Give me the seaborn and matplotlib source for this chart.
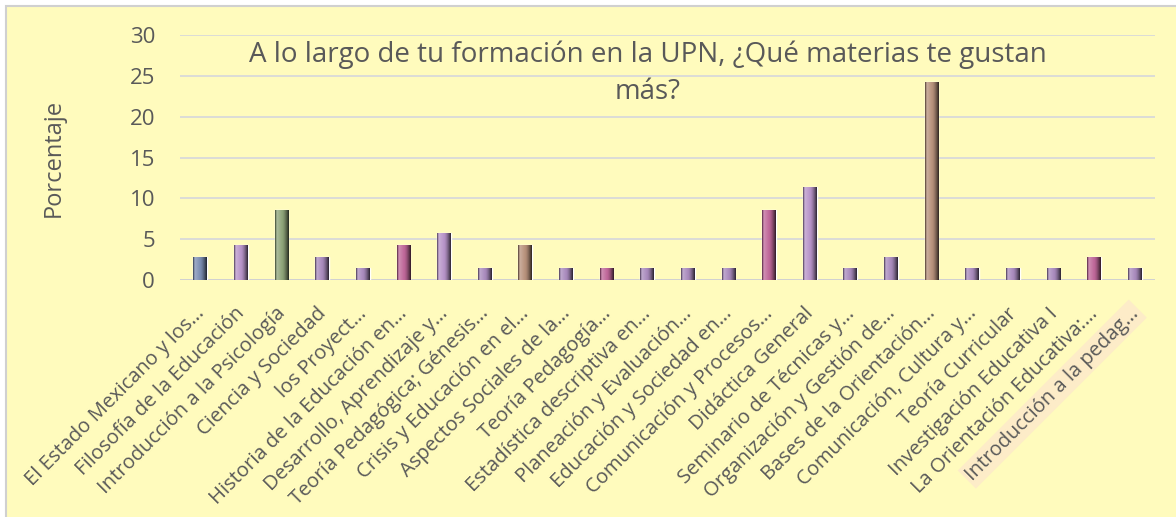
import numpy as np
import pandas as pd
import seaborn as sns
import matplotlib.pyplot as plt
import matplotlib.colors as mcolors
import matplotlib.transforms as mtransforms
from matplotlib.patches import Rectangle

materias = [
    "El Estado Mexicano y los…", "Filosofía de la Educación", "Introducción a la Psicología",
    "Ciencia y Sociedad", "los Proyect…", "Historia de la Educación en…",
    "Desarrollo, Aprendizaje y…", "Teoría Pedagógica; Génesis…", "Crisis y Educación en el…",
    "Aspectos Sociales de la…", "Teoría Pedagogía…", "Estadística descriptiva en…",
    "Planeación y Evaluación…", "Educación y Sociedad en…", "Comunicación y Procesos…",
    "Didáctica General", "Seminario de Técnicas y…", "Organización y Gestión de…",
    "Bases de la Orientación…", "Comunicación, Cultura y…", "Teoría Curricular",
    "Investigación Educativa I", "La Orientación Educativa:…", "Introducción a la pedag…",
]
# respuestas sobre 70 alumnos
respuestas = [2, 3, 6, 2, 1, 3, 4, 1, 3, 1, 1, 1, 1, 1, 6, 8, 1, 2, 17, 1, 1, 1, 2, 1]
porcentaje = [r / 70 * 100 for r in respuestas]

azul, lila, verde, morado, rosa, cafe = "#7d8fb3", "#b894c9", "#8fa57a", "#a98bbd", "#c0689a", "#b8927c"
colores = [azul, lila, verde, morado, morado, rosa, lila, morado, cafe, morado, rosa, morado,
           morado, morado, rosa, lila, morado, morado, cafe, morado, morado, morado, rosa, morado]

df = pd.DataFrame({"materia": materias, "porcentaje": porcentaje})

fondo = "#fffbbd"
texto = "#595959"

sns.set_style("white")
plt.rcParams["font.family"] = ["Open Sans", "DejaVu Sans"]

fig = plt.figure(figsize=(11.76, 5.17), dpi=100, facecolor="white")
marco = Rectangle((6 / 1176, -0.01), 1.0, 1 - 6 / 517 + 0.01, transform=fig.transFigure,
                  facecolor=fondo, edgecolor="#d0d0d0", linewidth=1.5, zorder=-10)
fig.patches.append(marco)
ax = fig.add_axes([180 / 1176, 1 - 280 / 517, 975 / 1176, 245 / 517])
ax.set_facecolor(fondo)

sns.barplot(data=df, x="materia", y="porcentaje", hue="materia", palette=colores,
            legend=False, width=0.34, ax=ax, zorder=3)

# sombreado tipo bisel: claro a la izquierda, oscuro a la derecha
for patch, c in zip(ax.patches, colores):
    x0, y0 = patch.get_x(), patch.get_y()
    w, h = patch.get_width(), patch.get_height()
    base = np.array(mcolors.to_rgb(c))
    claro = base + (1 - base) * 0.35
    oscuro = base * 0.25
    t = np.linspace(0, 1, 64)
    grad = np.empty((1, 64, 3))
    for i, v in enumerate(t):
        if v < 0.08:
            grad[0, i] = base * 0.6
        elif v < 0.5:
            grad[0, i] = claro + (base - claro) * (v / 0.5)
        else:
            grad[0, i] = base + (oscuro - base) * ((v - 0.5) / 0.5) ** 1.5
    im = ax.imshow(grad, extent=(x0, x0 + w, y0, y0 + h), aspect="auto", zorder=4)
    im.set_clip_path(patch)

ax.set_xlim(-0.5, len(materias) - 0.5)
ax.set_ylim(0, 30)
ax.set_yticks(range(0, 31, 5))
ax.yaxis.grid(True, color="#d9d9d9", linewidth=1.3, zorder=0)
ax.set_axisbelow(True)
for s in ax.spines.values():
    s.set_visible(False)
ax.axhline(0, color="#d0d0d0", linewidth=1.3, zorder=2)

ax.tick_params(axis="y", length=0, labelsize=16, labelcolor=texto, pad=18)
ax.tick_params(axis="x", length=0, labelsize=14.5, labelcolor=texto, pad=4)
ax.set_xticks(range(len(materias)))
ax.set_xticklabels(materias, rotation=45, ha="right", rotation_mode="anchor")
desplaza = mtransforms.ScaledTranslation(-0.06, -0.18, fig.dpi_scale_trans)
for lbl in ax.get_xticklabels():
    lbl.set_transform(lbl.get_transform() + desplaza)
ax.get_xticklabels()[-1].set_bbox(dict(facecolor="#fdecc8", edgecolor="none", pad=2))

ax.set_xlabel("")
ax.set_ylabel("Porcentaje", fontsize=17, color=texto, labelpad=46)

fig.text(648 / 1176, 1 - 73 / 517, "A lo largo de tu formación en la UPN, ¿Qué materias te gustan\nmás?",
         ha="center", va="center", fontsize=20, color=texto, linespacing=1.45)

fig.savefig("out.png", dpi=100, facecolor=fig.get_facecolor())
